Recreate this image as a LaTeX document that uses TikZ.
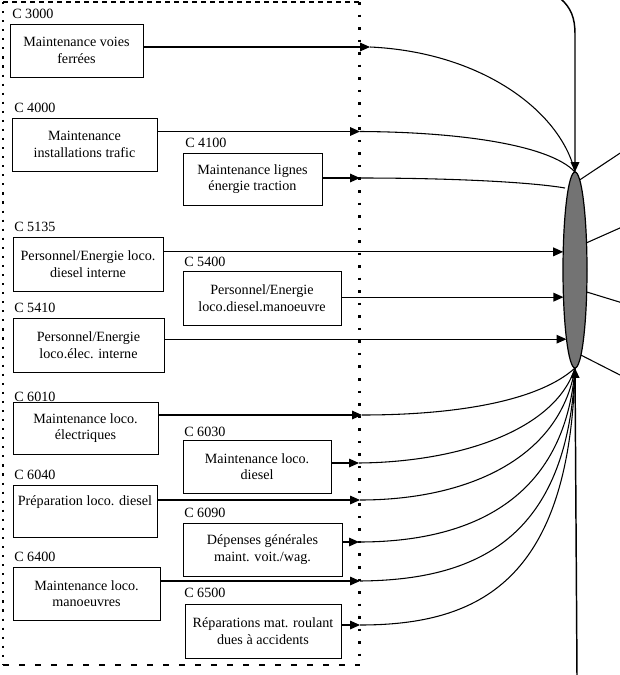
\documentclass[tikz,border=0pt]{standalone}
\usepackage{fontspec}
\setmainfont{Liberation Serif}
\usetikzlibrary{arrows.meta,shapes.geometric}
\begin{document}
\begin{tikzpicture}[x=0.75pt,y=-0.75pt,
  txt/.style={font=\fontsize{10.6}{12.4}\selectfont},
  box/.style={txt, draw, line width=0.7pt, inner sep=0pt, align=center},
  sz/.style 2 args={minimum width=#1*0.75pt, minimum height=#2*0.75pt},
  lab/.style={txt, anchor=west, inner sep=0pt},
  link/.style={line width=0.8pt},
  tip/.style={link, -{Triangle[length=7.5pt,width=6.5pt]}},
  trunk/.style={line width=1.1pt},
  edge top/.style={line width=1.4pt, dash pattern=on 3.75pt off 3pt},
  edge bottom/.style={line width=1.4pt, dash pattern=on 4.5pt off 7.5pt},
  edge side/.style={line width=1.6pt, dash pattern=on 1.6pt off 5.2pt},
  edge right/.style={line width=1.6pt, dash pattern=on 1.9pt off 7.5pt}
]
\useasboundingbox (0,0) rectangle (620,675);

% cost-centre frame
\draw[edge top] (3,2) -- (359.5,2);
\draw[edge bottom] (3,665) -- (359.5,665);
\draw[edge side] (3,2) -- (3,665);
\draw[edge right] (359.5,2) -- (359.5,665);

% collecting node
\node[draw, ellipse, fill=black!55, line width=0.9pt, inner sep=0pt, outer sep=0pt,
      sz={24}{196}] (ell) at (575,270) {};

% cost centres
\node[box, sz={133}{53}] (c3000) at (76.5,50.5) {Maintenance voies\\ferrées};
\node[box, sz={145}{53}] (c4000) at (84.5,144.5) {Maintenance\\installations trafic};
\node[box, sz={139}{52}] (c4100) at (252.5,179) {Maintenance lignes\\énergie traction};
\node[box, sz={150}{54}] (c5135) at (88,264) {Personnel/Energie loco.\\diesel interne};
\node[box, sz={158}{54}] (c5400) at (262,298) {Personnel/Energie\\loco.diesel.manoeuvre};
\node[box, sz={151}{54}] (c5410) at (88.5,345) {Personnel/Energie\\loco.élec. interne};
\node[box, sz={145}{52}] (c6010) at (85.5,428) {Maintenance loco.\\électriques};
\node[box, sz={148}{53}] (c6030) at (257,466.5) {Maintenance loco.\\diesel};
\node[box, sz={144}{52}] (c6040) at (85,511) {Préparation loco. diesel\\\strut};
\node[box, sz={159}{53}] (c6090) at (262.5,549.5) {Dépenses générales\\maint. voit./wag.};
\node[box, sz={147}{53}] (c6400) at (86.5,593.5) {Maintenance loco.\\manoeuvres};
\node[box, sz={156}{54}] (c6500) at (263,631) {Réparations mat. roulant\\dues à accidents};

% codes
\node[lab] (l3000) at (12,14) {C 3000};
\node[lab] (l4000) at (14,108) {C 4000};
\node[lab] (l4100) at (185,143) {C 4100};
\node[lab] (l5135) at (14,227) {C 5135};
\node[lab] (l5400) at (184,262) {C 5400};
\node[lab] (l5410) at (14,308) {C 5410};
\node[lab] (l6010) at (14,397) {C 6010};
\node[lab] (l6030) at (184,432) {C 6030};
\node[lab] (l6040) at (14,475) {C 6040};
\node[lab] (l6090) at (184,513) {C 6090};
\node[lab] (l6400) at (14,557) {C 6400};
\node[lab] (l6500) at (184,593) {C 6500};

% crossing points on the frame
\coordinate (t3000) at (370,47);
\coordinate (t4000) at (360,131.5);
\coordinate (t4100) at (360,178);
\coordinate (t6010) at (362,415);
\coordinate (t6030) at (359,463);
\coordinate (t6040) at (360,500);
\coordinate (t6090) at (359,542);
\coordinate (t6400) at (360,581);
\coordinate (t6500) at (360,625);
\coordinate (e4100) at (565,188);

% upper flows
\draw[tip] (c3000.east |- t3000) -- (t3000);
\draw[link] (t3000) .. controls (480,52) and (560,110) .. (ell.north);
\draw[tip] (c4000.east |- t4000) -- (t4000);
\draw[link] (t4000) .. controls (460,132) and (550,145) .. (ell.north);
\draw[tip] (c4100.east |- t4100) -- (t4100);
\draw[link] (t4100) .. controls (450,178) and (530,182) .. (e4100);

% direct flows
\draw[tip] (c5135.east |- ell.123) -- (ell.123);
\draw[tip] (c5400.east |- ell.-113) -- (ell.-113);
\draw[tip] (c5410.east |- ell.-97) -- (ell.-97);

% lower flows
\draw[tip] (c6010.east |- t6010) -- (t6010);
\draw[link] (t6010) .. controls (460,415) and (540,400) .. (ell.south);
\draw[tip] (c6030.east |- t6030) -- (t6030);
\draw[link] (t6030) .. controls (460,462) and (555,430) .. (ell.south);
\draw[tip] (c6040.east |- t6040) -- (t6040);
\draw[link] (t6040) .. controls (465,500) and (560,460) .. (ell.south);
\draw[tip] (c6090.east |- t6090) -- (t6090);
\draw[link] (t6090) .. controls (470,542) and (565,500) .. (ell.south);
\draw[tip] (c6400.east |- t6400) -- (t6400);
\draw[link] (t6400) .. controls (475,580) and (568,540) .. (ell.south);
\draw[tip] (c6500.east |- t6500) -- (t6500);
\draw[link] (t6500) .. controls (480,625) and (570,580) .. (ell.south);

% incoming trunks
\coordinate (topin) at (561,-1);
\coordinate (botin) at (577,676);
\draw[trunk, -{Triangle[length=7.5pt,width=6.5pt]}] (topin) .. controls (571,8) and (575,18) .. (575,34) -- (ell.north);
\draw[trunk, -{Triangle[length=7.5pt,width=6.5pt]}] (botin) -- (ell.south);

% outgoing flows
\coordinate (o1) at (621,152.5);
\coordinate (o2) at (621,227.5);
\coordinate (o3) at (621,302.5);
\coordinate (o4) at (621,375.5);
\draw[link] (ell.87) -- (o1);
\draw[link] (ell.67) -- (o2);
\draw[link] (ell.-62) -- (o3);
\draw[link] (ell.-86) -- (o4);
\end{tikzpicture}
\end{document}
